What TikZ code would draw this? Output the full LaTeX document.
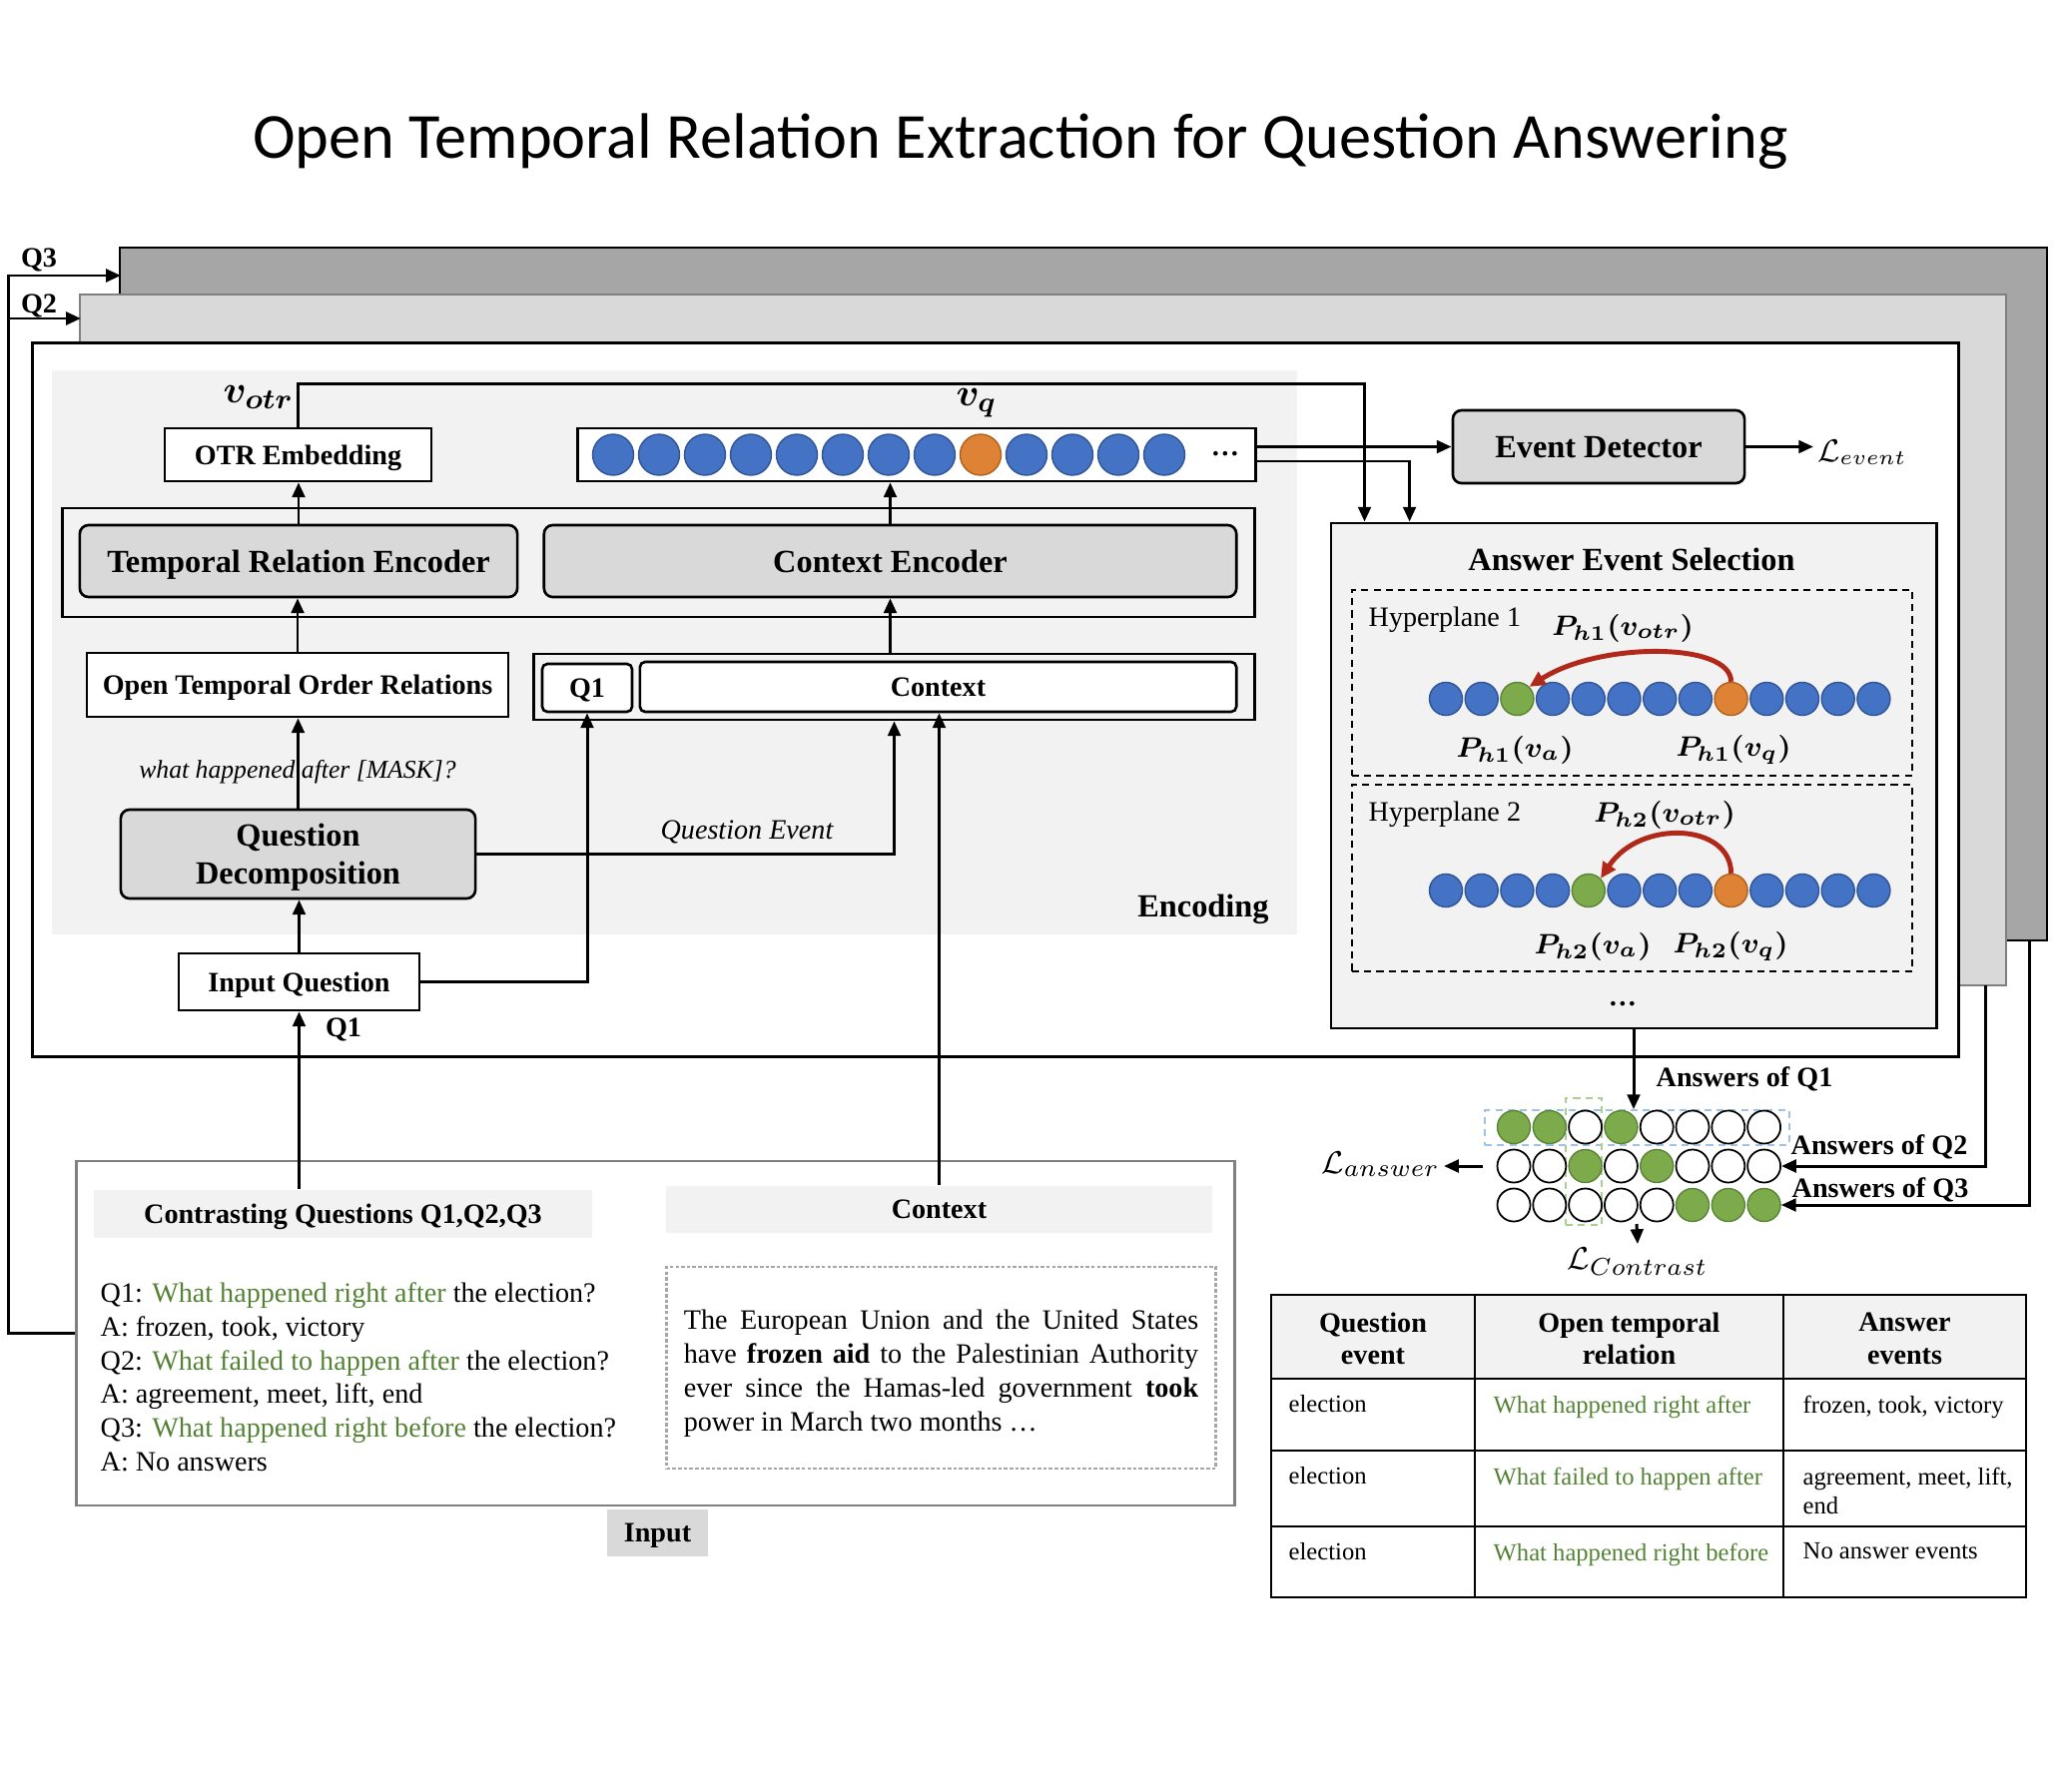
\documentclass[tikz,border=0pt]{standalone}
\usepackage{fontspec}
\setmainfont{Liberation Serif}
\newfontfamily\titlefont{Carlito}
\usepackage{bm}
\usetikzlibrary{arrows.meta}
\definecolor{dotblue}{HTML}{4472C4}
\definecolor{dotblueline}{HTML}{2F5597}
\definecolor{dotorange}{HTML}{DE8236}
\definecolor{dotorangeline}{HTML}{B0601F}
\definecolor{dotgreen}{HTML}{7DAB4C}
\definecolor{dotgreenline}{HTML}{5A8436}
\definecolor{arcred}{HTML}{B0281A}
\definecolor{textgreen}{HTML}{548235}
\definecolor{stackdark}{HTML}{A6A6A6}
\definecolor{stacklight}{HTML}{D9D9D9}
\definecolor{regiongray}{HTML}{F2F2F2}
\definecolor{modulegray}{HTML}{D9D9D9}
\definecolor{framegray}{HTML}{808080}
\definecolor{rowblue}{HTML}{9DC3E6}
\definecolor{colgreen}{HTML}{A9D18E}
\newcommand{\setfs}[2]{\fontsize{#1}{#2}\selectfont}

\begin{document}
\begin{tikzpicture}[x=0.01cm, y=-0.01cm,
  flow/.style={line width=0.85pt, -{Triangle[length=4.2pt,width=3.6pt]}},
  arcarrow/.style={arcred, line width=1.4pt, -{Triangle[length=4.5pt,width=4.2pt]}},
  plainbox/.style={draw, line width=0.75pt, fill=white, inner sep=0pt, text depth=0pt, font=\bfseries\setfs{8}{9.6}},
  modbox/.style={draw, line width=0.75pt, fill=modulegray, rounded corners=2.5pt, inner sep=0pt, text depth=0pt, align=center, font=\bfseries\setfs{9.2}{10.8}},
  dotB/.style={circle, draw=dotblueline, fill=dotblue, line width=0.4pt, inner sep=0pt, minimum size=0.33cm},
  dotO/.style={dotB, draw=dotorangeline, fill=dotorange},
  dotG/.style={dotB, draw=dotgreenline, fill=dotgreen},
  dotW/.style={dotB, draw=black, fill=white, line width=0.5pt},
  bigdot/.style={minimum size=0.41cm},
  boldlabel/.style={font=\bfseries\setfs{8}{9.6}},
  mathlabel/.style={font=\setfs{8.5}{10}, inner sep=1pt},
  cellhead/.style={align=center, font=\bfseries\setfs{8}{9.3}},
  cellbody/.style={anchor=north west, inner sep=0pt, align=left, font=\setfs{7}{8.4}}]
  \useasboundingbox (0,0) rectangle (2058,1794);

  % --- Title ---
  \node[font=\titlefont\setfs{18.3}{22}] (title) at (1022,142) {Open Temporal Relation Extraction for Question Answering};

  % --- Stacked panels for Q3, Q2 and Q1 ---
  \node[draw=black, line width=0.6pt, fill=stackdark, inner sep=0pt, minimum width=19.28cm, minimum height=6.94cm] (q3panel) at (1085,595) {};
  \node[draw=framegray, line width=0.6pt, fill=stacklight, inner sep=0pt, minimum width=19.27cm, minimum height=6.92cm] (q2panel) at (1044.5,641) {};
  \node[draw=black, line width=0.75pt, fill=white, inner sep=0pt, minimum width=19.28cm, minimum height=7.14cm] (q1panel) at (997,701) {};
  \node[boldlabel] (q3tag) at (39,260) {Q3};
  \node[boldlabel] (q2tag) at (39,306) {Q2};

  % --- Encoding region ---
  \fill[regiongray] (52,371) rectangle (1299,936);
  \node[font=\bfseries\setfs{9.2}{11}] (enclabel) at (1205,911) {Encoding};

  % --- Embeddings ---
  \node[plainbox, minimum width=2.67cm, minimum height=0.53cm] (otr) at (298.5,455.5) {OTR Embedding};
  \node[font=\setfs{11}{13}] (votr) at (259,398) {$\bm{v_{otr}}$};
  \node[plainbox, minimum width=6.78cm, minimum height=0.53cm] (vq) at (918,455.5) {};
  \foreach \dc [count=\i] in {B,B,B,B,B,B,B,B,O,B,B,B,B}
    \node[dot\dc, bigdot] (vq-\i) at ({614+46*(\i-1)},455.5) {};
  \node[font=\bfseries\setfs{8}{9.6}] (vqdots) at (1227,455) {\ldots};
  \node[font=\setfs{11}{13}] (vqlabel) at (978,404) {$\bm{v_{q}}$};

  % --- Encoders ---
  \node[draw, line width=0.75pt, inner sep=0pt, minimum width=11.93cm, minimum height=1.09cm] (encframe) at (659.5,563.5) {};
  \node[modbox, minimum width=4.38cm, minimum height=0.72cm] (tre) at (299,562) {Temporal Relation Encoder};
  \node[modbox, minimum width=6.93cm, minimum height=0.72cm] (ce) at (891.5,562) {Context Encoder};

  % --- Encoder inputs ---
  \node[plainbox, minimum width=4.22cm, minimum height=0.64cm] (otor) at (298,686) {Open Temporal Order Relations};
  \node[draw, line width=0.75pt, inner sep=0pt, minimum width=7.21cm, minimum height=0.66cm] (qcbox) at (895.5,688) {};
  \node[plainbox, rounded corners=1.5pt, minimum width=0.9cm, minimum height=0.48cm] (qone) at (588,689) {Q1};
  \node[plainbox, rounded corners=1.5pt, minimum width=5.97cm, minimum height=0.5cm] (ctx) at (939.5,688) {Context};
  \node[modbox, minimum width=3.55cm, minimum height=0.89cm] (qd) at (298.5,855.5) {Question\\Decomposition};
  \node[plainbox, minimum width=2.41cm, minimum height=0.57cm] (iq) at (299.5,983.5) {Input Question};
  \node[boldlabel] (q1tag) at (344,1031) {Q1};
  \node[font=\itshape\setfs{7.3}{9}] (masklabel) at (298,773) {what happened after [MASK]?};
  \node[font=\itshape\setfs{8}{9.6}] (qevlabel) at (748,833) {Question Event};

  % --- Event detector and answer selection ---
  \node[modbox, minimum width=2.92cm, minimum height=0.73cm] (ed) at (1601,447.5) {Event Detector};
  \node[anchor=west, inner sep=1pt, font=\setfs{9.2}{11}] (levent) at (1816,453) {$\mathcal{L}_{event}$};
  \node[draw, line width=0.75pt, fill=regiongray, inner sep=0pt, minimum width=6.06cm, minimum height=5.06cm] (aes) at (1636,777) {};
  \node[font=\bfseries\setfs{9.2}{11}] (aestitle) at (1634,560) {Answer Event Selection};
  \node[draw, dash pattern=on 2pt off 1.5pt, line width=0.5pt, inner sep=0pt, minimum width=5.61cm, minimum height=1.86cm] (hpone) at (1634.5,684) {};
  \node[draw, dash pattern=on 2pt off 1.5pt, line width=0.5pt, inner sep=0pt, minimum width=5.61cm, minimum height=1.87cm] (hptwo) at (1634.5,879.5) {};
  \node[anchor=west, inner sep=0pt, font=\setfs{8}{9.6}] (hponelabel) at (1370,621) {Hyperplane 1};
  \node[anchor=west, inner sep=0pt, font=\setfs{8}{9.6}] (hptwolabel) at (1370,816) {Hyperplane 2};
  \foreach \dc [count=\i] in {B,B,G,B,B,B,B,B,O,B,B,B,B}
    \node[dot\dc] (h1-\i) at ({1448+35.7*(\i-1)},700) {};
  \foreach \dc [count=\i] in {B,B,B,B,G,B,B,B,O,B,B,B,B}
    \node[dot\dc] (h2-\i) at ({1448+35.7*(\i-1)},892) {};
  \node[mathlabel] (ph1otr) at (1625,629) {$\bm{P_{h1}(v_{otr})}$};
  \node[mathlabel] (ph1a) at (1517,751) {$\bm{P_{h1}(v_{a})}$};
  \node[mathlabel] (ph1q) at (1736,751) {$\bm{P_{h1}(v_{q})}$};
  \node[mathlabel] (ph2otr) at (1667,816) {$\bm{P_{h2}(v_{otr})}$};
  \node[mathlabel] (ph2a) at (1595,948) {$\bm{P_{h2}(v_{a})}$};
  \node[mathlabel] (ph2q) at (1733,948) {$\bm{P_{h2}(v_{q})}$};
  \draw[arcarrow] (h1-9.north) .. controls +(0,-40) and +(70,-45) .. (h1-3.north east);
  \draw[arcarrow] (h2-9.north) .. controls +(0,-50) and +(40,-60) .. (h2-5.north east);
  \node[font=\bfseries\setfs{8}{9.6}] (aesdots) at (1625,1006) {\ldots};

  % --- Answers of Q1, Q2, Q3 ---
  \node[draw=rowblue, dash pattern=on 2pt off 1.5pt, line width=0.5pt, inner sep=0pt, minimum width=3.05cm, minimum height=0.35cm] (rowone) at (1639.5,1129.5) {};
  \node[draw=colgreen, dash pattern=on 2pt off 1.5pt, line width=0.5pt, inner sep=0pt, minimum width=0.36cm, minimum height=1.27cm] (coltwo) at (1586,1163.5) {};
  \foreach \dc [count=\i] in {G,G,W,G,W,W,W,W}
    \node[dot\dc] (a1-\i) at ({1516+35.8*(\i-1)},1129) {};
  \foreach \dc [count=\i] in {W,W,G,W,G,W,W,W}
    \node[dot\dc] (a2-\i) at ({1516+35.8*(\i-1)},1168) {};
  \foreach \dc [count=\i] in {W,W,W,W,W,G,G,G}
    \node[dot\dc] (a3-\i) at ({1516+35.8*(\i-1)},1207) {};
  \node[boldlabel] (ans1) at (1747,1081) {Answers of Q1};
  \node[boldlabel] (ans2) at (1882,1149) {Answers of Q2};
  \node[boldlabel] (ans3) at (1883,1192) {Answers of Q3};
  \node[anchor=east, inner sep=1pt, font=\setfs{9.5}{11}] (lanswer) at (1446,1166) {$\mathcal{L}_{answer}$};
  \node[anchor=north, inner sep=1pt, font=\setfs{9.5}{11}] (lcontrast) at (1640,1246) {$\mathcal{L}_{Contrast}$};
  \coordinate (contrasttap) at (1639,1226);

  % --- Input ---
  \node[draw=framegray, line width=0.75pt, fill=white, inner sep=0pt, minimum width=11.59cm, minimum height=3.45cm] (inputbox) at (656.5,1335.5) {};
  \node[fill=regiongray, inner sep=0pt, text depth=0pt, minimum width=4.99cm, minimum height=0.48cm, boldlabel] (qhdr) at (343.5,1216) {Contrasting Questions Q1,Q2,Q3};
  \node[fill=regiongray, inner sep=0pt, text depth=0pt, minimum width=5.47cm, minimum height=0.47cm, boldlabel] (chdr) at (940.5,1211.5) {Context};
  \node[anchor=north west, inner sep=0pt, align=left, font=\setfs{8}{9.6}] (qlist) at (100,1284) {Q1: \textcolor{textgreen}{What happened right after} the election?\\
    A: frozen, took, victory\\
    Q2: \textcolor{textgreen}{What failed to happen after} the election?\\
    A: agreement, meet, lift, end\\
    Q3: \textcolor{textgreen}{What happened right before} the election?\\
    A: No answers};
  \node[draw=stackdark, dash pattern=on 1pt off 0.6pt, line width=0.8pt, inner sep=0pt, minimum width=5.49cm, minimum height=2.02cm] (ctxframe) at (942.5,1370) {};
  \node[text width=5.15cm, align=justify, inner sep=0pt, font=\setfs{8}{9.7}] (ctxbody) at (942.5,1376) {The European Union and the United States\linebreak have \textbf{frozen aid} to the Palestinian Authority\linebreak ever since the Hamas-led government \textbf{took}\linebreak power in March two months \ldots};
  \node[fill=modulegray, inner sep=0pt, text depth=0pt, minimum width=1.01cm, minimum height=0.47cm, boldlabel] (inputlabel) at (658.5,1535.5) {Input};

  % --- Table of relations ---
  \fill[regiongray] (1273,1297) rectangle (2029,1381);
  \draw[line width=0.75pt] (1273,1297) rectangle (2029,1600);
  \foreach \y in {1381,1453,1529} \draw[line width=0.75pt] (1273,\y) -- (2029,\y);
  \foreach \x in {1477,1786} \draw[line width=0.75pt] (\x,1297) -- (\x,1600);
  \node[cellhead] (headqev) at (1375,1341) {Question\\event};
  \node[cellhead] (headotr) at (1631.5,1341) {Open temporal\\relation};
  \node[cellhead] (headans) at (1907.5,1341) {Answer\\events};
  \node[cellbody] (qev-1) at (1290,1397) {election};
  \node[cellbody] (qev-2) at (1290,1469) {election};
  \node[cellbody] (qev-3) at (1290,1545) {election};
  \node[cellbody, text=textgreen] (rel-1) at (1495,1397) {What happened right after};
  \node[cellbody, text=textgreen] (rel-2) at (1495,1469) {What failed to happen after};
  \node[cellbody, text=textgreen] (rel-3) at (1495,1545) {What happened right before};
  \node[cellbody] (ans-1) at (1805,1397) {frozen, took, victory};
  \node[cellbody] (ans-2) at (1805,1469) {agreement, meet, lift,\\end};
  \node[cellbody] (ans-3) at (1805,1545) {No answer events};

  % --- Connectors ---
  \draw[flow] (otr.north) -- ++(0,-43) -| ([xshift=0.35cm]aes.north west);
  \draw[flow] (vq.east |- ed.west) -- (ed.west);
  \draw[flow] (vq.east |- 0,462) -| ([xshift=0.8cm]aes.north west);
  \draw[flow] (ed.east) -- (ed.east -| levent.west);
  \draw[flow] (tre.north) -- (tre.north |- otr.south);
  \draw[flow] (ce.north) -- (ce.north |- vq.south);
  \draw[flow] (otor.north) -- (otor.north |- tre.south);
  \draw[flow] (ce.south |- qcbox.north) -- (ce.south);
  \draw[flow] (qd.north) -- (qd.north |- otor.south);
  \draw[flow] (qd.east) -| (qcbox.south);
  \draw[flow] (iq.north) -- (iq.north |- qd.south);
  \draw[flow] (iq.east) -| (qone.south);
  \draw[flow] (qhdr.north -| iq.south) -- (iq.south);
  \draw[flow] (chdr.north) -- (chdr.north |- ctx.south);
  \draw[flow] (aes.south) -- (aes.south |- rowone.north);

  % --- Feedback of Q2 and Q3 ---
  \coordinate (q3in) at (121,276);
  \coordinate (q2in) at (81,319);
  \coordinate (looptap) at (10,319);
  \draw[flow] (inputbox.west) -- ++(-67,0) |- (q3in);
  \draw[flow] (looptap) -- (q2in);
  \coordinate (q2out) at (1988,987);
  \coordinate (q3out) at (2032,942);
  \draw[flow] (q2out) |- (a2-8.east);
  \draw[flow] (q3out) |- (a3-8.east);
  \draw[flow] ([xshift=-0.14cm]a2-1.west) -- (lanswer.east |- a2-1.west);
  \draw[flow] (contrasttap) -- (lcontrast.north);
\end{tikzpicture}
\end{document}
